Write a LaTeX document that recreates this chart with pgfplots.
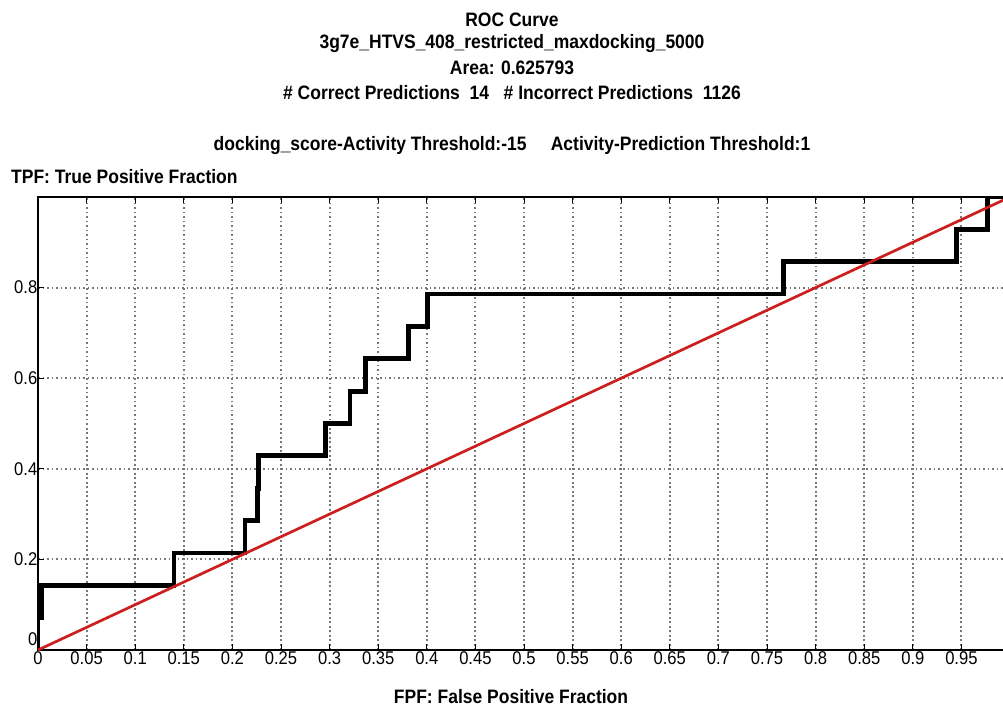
\documentclass[border=0pt]{standalone}
\usepackage{fontspec}
\setmainfont{Liberation Sans}
\newfontfamily\narrowfont{Liberation Sans}[FakeStretch=0.9]
\newfontfamily\narrowbold{Liberation Sans Bold}[FakeStretch=0.9]
\usepackage{pgfplots}
\pgfplotsset{compat=1.18}
\definecolor{rocred}{RGB}{205,30,30}
\definecolor{gridgray}{RGB}{120,120,120}

\pgfplotstableread{
x y
0 0
0 0.0714
0.004 0.0714
0.004 0.1429
0.140 0.1429
0.140 0.2143
0.213 0.2143
0.213 0.2857
0.226 0.2857
0.226 0.3571
0.227 0.3571
0.227 0.4286
0.296 0.4286
0.296 0.5
0.321 0.5
0.321 0.5714
0.337 0.5714
0.337 0.6429
0.381 0.6429
0.381 0.7143
0.401 0.7143
0.401 0.7857
0.767 0.7857
0.767 0.8571
0.945 0.8571
0.945 0.9286
0.977 0.9286
0.977 1
1 1
}\roc

\begin{document}
\begin{tikzpicture}
\path[use as bounding box] (-38bp,-56bp) rectangle (965bp,650bp);
\begin{axis}[
  at={(0,0)}, anchor=south west,
  scale only axis, width=972bp, height=453bp,
  xmin=0, xmax=1, ymin=0, ymax=1,
  xtick={0,0.05,0.1,0.15,0.2,0.25,0.3,0.35,0.4,0.45,0.5,0.55,0.6,0.65,0.7,0.75,0.8,0.85,0.9,0.95,1},
  xticklabels={0,0.05,0.1,0.15,0.2,0.25,0.3,0.35,0.4,0.45,0.5,0.55,0.6,0.65,0.7,0.75,0.8,0.85,0.9,0.95,},
  ytick={0,0.2,0.4,0.6,0.8,1},
  yticklabels={\smash{\raisebox{5bp}{0}},0.2,0.4,0.6,0.8,},
  grid=major,
  major grid style={gridgray, line width=1.9bp, dash pattern=on 1.9bp off 2.6bp},
  tick align=inside, major tick length=6bp,
  tick style={black, line width=1bp},
  axis line style={black, line width=1.6bp},
  xticklabel style={font=\narrowfont\fontsize{18.5}{18.5}\selectfont, inner sep=1bp, yshift=0bp},
  yticklabel style={font=\narrowfont\fontsize{18.5}{18.5}\selectfont, inner sep=0.5bp},
]
\addplot[black, line width=4.8bp, line join=miter, line cap=rect] table[x=x,y=y] {\roc};
\addplot[rocred, line width=2.7bp] coordinates {(0,0) (1,1)};
\end{axis}
\begin{scope}[every node/.style={font=\narrowbold\fontsize{19.5}{19.5}\selectfont, inner sep=0pt}]
\node at (474bp,630bp) {ROC Curve};
\node at (474bp,606bp) {3g7e\_HTVS\_408\_restricted\_maxdocking\_5000};
\node at (474bp,582bp) {Area: 0.625793};
\node at (474bp,557bp) {\# Correct Predictions\ \ 14\ \ \ \# Incorrect Predictions\ \ 1126};
\node at (474bp,504bp) {docking\_score-Activity Threshold:-15\ \ \ \ \ Activity-Prediction Threshold:1};
\node[anchor=west] at (-27bp,473bp) {TPF: True Positive Fraction};
\node at (473bp,-47bp) {FPF: False Positive Fraction};
\end{scope}
\end{tikzpicture}
\end{document}
